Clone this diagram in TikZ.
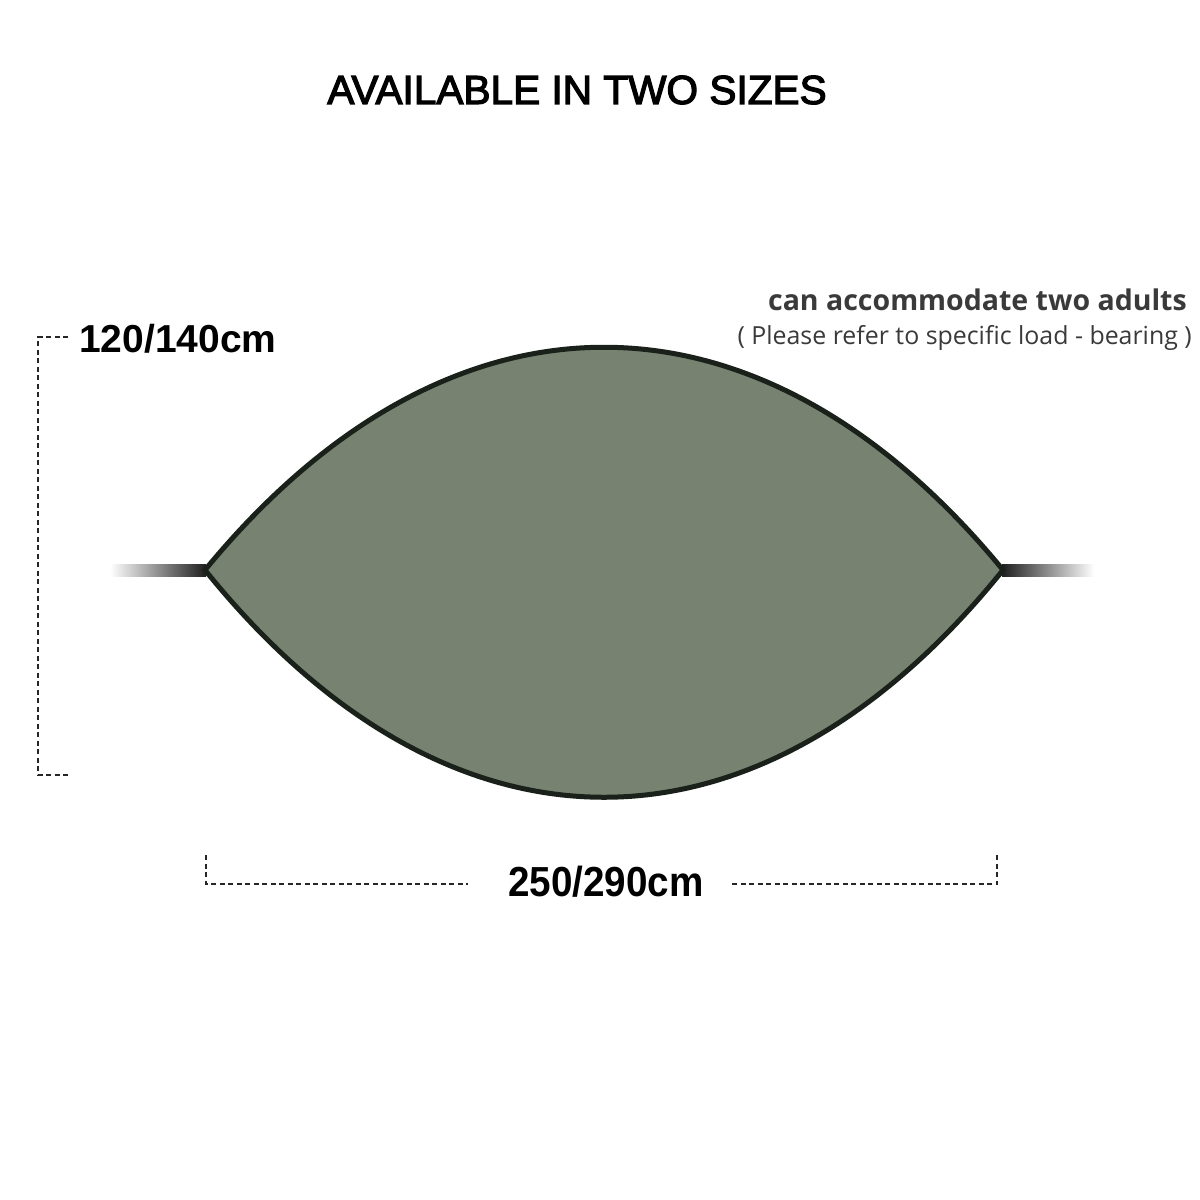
\documentclass[tikz,border=0pt]{standalone}
\usepackage{fontspec}
\setmainfont{Liberation Sans}
\newfontfamily\labfont{Open Sans}
\newfontfamily\medfont{Liberation Sans}[FakeBold=3]
\definecolor{hamfill}{RGB}{120,130,113}
\definecolor{hamedge}{RGB}{26,33,26}
\definecolor{notegray}{RGB}{58,58,58}
\begin{document}
\begin{tikzpicture}[x=1pt,y=-1pt,
  dim/.style={line width=1.1pt, dash pattern=on 5pt off 3.5pt, black!85},
  title/.style={font=\medfont\fontsize{40.6}{44}\selectfont, anchor=center, inner sep=0pt},
  dimlabel/.style={font=\fontsize{39}{42}\selectfont\bfseries, inner sep=0pt},
  note/.style={anchor=east, inner sep=0pt, text=notegray}]
\useasboundingbox[fill=white] (0,0) rectangle (1200,1200);

% title
\node[title] (title) at (577,90) {AVAILABLE IN TWO SIZES};

% ropes
\shade[left color=white, right color=black!88] (110,564) rectangle (206,576);
\shade[left color=black!88, right color=white] (1002,564) rectangle (1094,576);

% hammock body
\coordinate (L) at (205,570);
\coordinate (R) at (1003,570);
\filldraw[fill=hamfill, draw=hamedge, line width=5pt, line join=miter]
  (L) .. controls (449,273) and (759,273) .. (R)
      .. controls (759,873) and (449,873) .. (L) -- cycle;

% height dimension
\node[dimlabel, anchor=west] (hlab) at (79,339) {120/140cm};
\coordinate (h1) at (68,337);
\coordinate (h2) at (38,337);
\coordinate (h3) at (38,775);
\coordinate (h4) at (68,775);
\draw[dim] (h1) -- (h2) -- (h3) -- (h4);

% width dimension
\node[font=\fontsize{42}{44}\selectfont\bfseries, inner sep=0pt, xscale=0.92] (wlab) at (606,882) {250/290cm};
\coordinate (w1) at (206,855);
\coordinate (w2) at (206,884);
\coordinate (w3) at (468,884);
\coordinate (w4) at (732,884);
\coordinate (w5) at (997,884);
\coordinate (w6) at (997,855);
\draw[dim] (w1) -- (w2) -- (w3);
\draw[dim] (w4) -- (w5) -- (w6);

% capacity note
\node[note, font=\labfont\fontsize{28.5}{30}\selectfont\bfseries] (cap) at (1187,300) {can accommodate two adults};
\node[note, font=\labfont\fontsize{24.9}{26}\selectfont] (load) at (1192,338) {( Please refer to specific load - bearing )};
\end{tikzpicture}
\end{document}
